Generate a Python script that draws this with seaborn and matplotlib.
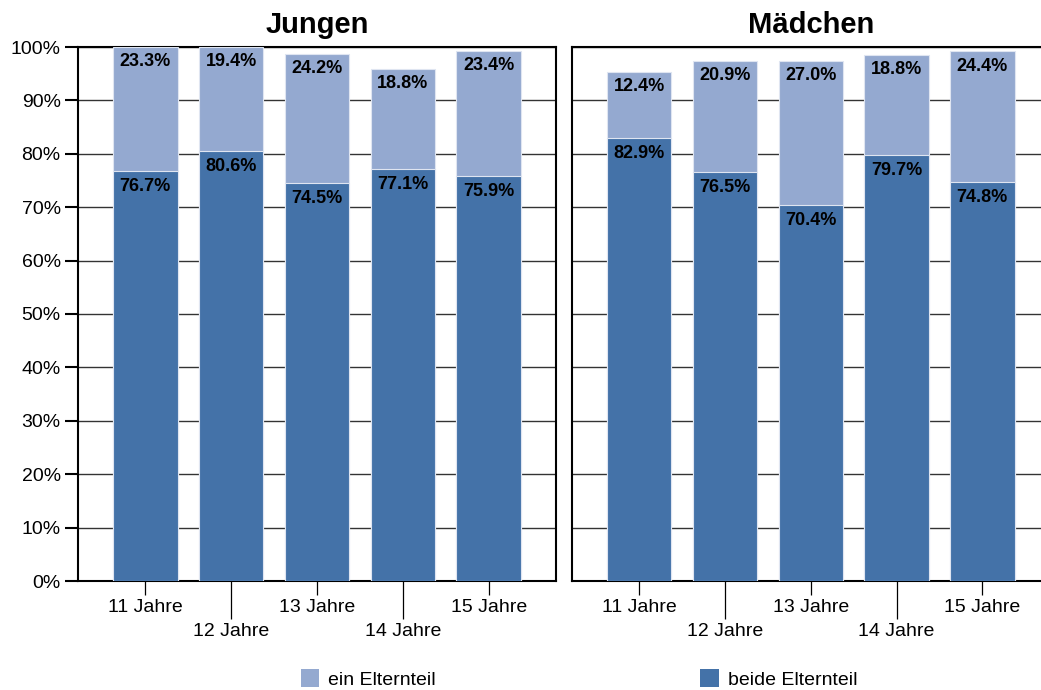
import matplotlib
matplotlib.use("Agg")
import matplotlib.pyplot as plt
import pandas as pd
import seaborn as sns
from matplotlib.patches import Patch

# data
altersgruppen = ["11 Jahre", "12 Jahre", "13 Jahre", "14 Jahre", "15 Jahre"]
jungen_beide = [76.7, 80.6, 74.5, 77.1, 75.9]
jungen_ein = [23.3, 19.4, 24.2, 18.8, 23.4]
maedchen_beide = [82.9, 76.5, 70.4, 79.7, 74.8]
maedchen_ein = [12.4, 20.9, 27.0, 18.8, 24.4]
panels = ["Jungen", "Mädchen"]
serien = ["ein Elternteil", "beide Elternteil"]
yticks = [0, 10, 20, 30, 40, 50, 60, 70, 80, 90, 100]

LIGHT = "#94a9d0"
DARK = "#4472a8"

sns.set_style("white")
plt.rcParams["font.family"] = ["Liberation Sans", "DejaVu Sans"]
plt.rcParams["text.color"] = "black"
plt.rcParams["xtick.color"] = "black"
plt.rcParams["ytick.color"] = "black"
plt.rcParams["axes.labelcolor"] = "black"


def build_frame():
    rows = []
    for panel, beide, ein in [("Jungen", jungen_beide, jungen_ein),
                              ("Mädchen", maedchen_beide, maedchen_ein)]:
        for alter, b, e in zip(altersgruppen, beide, ein):
            rows.append({"panel": panel, "alter": alter, "beide": b, "ein": e, "gesamt": b + e})
    return pd.DataFrame(rows)


df = build_frame()

fig = plt.figure(figsize=(10.41, 6.9), dpi=100)
ax_w = 478 / 1041
ax_h = 534 / 690
ax_b = 1 - 581 / 690
axes = [fig.add_axes([78 / 1041, ax_b, ax_w, ax_h]),
        fig.add_axes([571.7 / 1041, ax_b, ax_w, ax_h])]

for i, (ax, panel) in enumerate(zip(axes, panels)):
    d = df[df["panel"] == panel]
    sns.barplot(data=d, x="alter", y="gesamt", order=altersgruppen, color=LIGHT,
                width=0.75, errorbar=None, edgecolor="#dfe5f1", linewidth=0.8,
                saturation=1, ax=ax, zorder=3)
    sns.barplot(data=d, x="alter", y="beide", order=altersgruppen, color=DARK,
                width=0.75, errorbar=None, edgecolor="#dfe5f1", linewidth=0.8,
                saturation=1, ax=ax, zorder=3)

    for j, row in enumerate(d.itertuples()):
        ax.annotate(f"{row.ein:.1f}%", (j, row.gesamt), xytext=(0, -4.5),
                    textcoords="offset points", ha="center", va="top",
                    fontsize=13, fontweight="bold", color="black", zorder=5)
        ax.annotate(f"{row.beide:.1f}%", (j, row.beide), xytext=(0, -5),
                    textcoords="offset points", ha="center", va="top",
                    fontsize=13, fontweight="bold", color="black", zorder=5)

    ax.set_xlim(-0.785, 4.785)
    ax.set_ylim(0, 100)
    ax.set_xlabel("")
    ax.set_ylabel("")
    ax.set_title(panel, fontsize=21, fontweight="bold", pad=10, color="black")

    ax.set_yticks(yticks)
    ax.yaxis.grid(True, color="#333333", linewidth=1.0, zorder=0)
    ax.set_axisbelow(True)

    # alternating tick labels: short ticks for 11/13/15, long ones for 12/14
    ax.set_xticks([0, 2, 4], labels=[altersgruppen[k] for k in (0, 2, 4)])
    ax.set_xticks([1, 3], labels=[altersgruppen[k] for k in (1, 3)], minor=True)
    ax.tick_params(axis="x", which="major", length=10, width=0.9, pad=3,
                   labelsize=14, color="black", labelcolor="black",
                   direction="out", bottom=True)
    ax.tick_params(axis="x", which="minor", length=27, width=0.9, pad=3,
                   labelsize=14, color="black", labelcolor="black",
                   direction="out", bottom=True)

    if i == 0:
        ax.set_yticklabels([f"{v}%" for v in yticks])
        ax.tick_params(axis="y", length=9.5, width=1.5, pad=3, labelsize=14,
                       color="black", labelcolor="black", direction="out", left=True)
    else:
        ax.tick_params(axis="y", length=0, labelleft=False)

    for side in ["left", "right", "top", "bottom"]:
        ax.spines[side].set_visible(True)
        ax.spines[side].set_color("black")
        ax.spines[side].set_linewidth(1.5)

handles = [Patch(facecolor=LIGHT, edgecolor="none"),
           Patch(facecolor=DARK, edgecolor="none")]
fig.legend(handles, serien, loc="center", bbox_to_anchor=(579 / 1041, 1 - 679 / 690),
           ncol=2, frameon=False, fontsize=14, handlelength=0.95, handleheight=1.0,
           handletextpad=0.45, columnspacing=13.6, borderpad=0, labelcolor="black")

fig.savefig("out.png", dpi=100)
